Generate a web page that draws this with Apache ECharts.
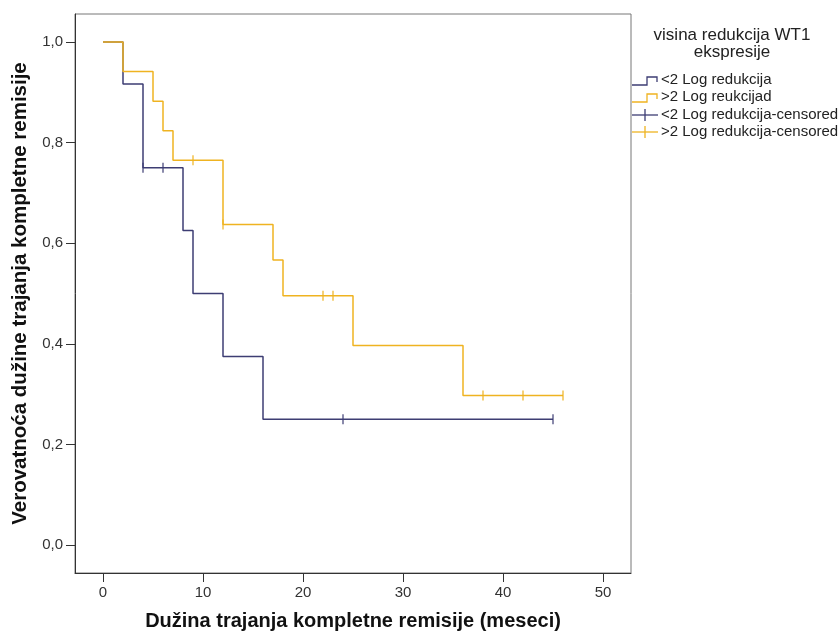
<!DOCTYPE html>
<html><head><meta charset="utf-8">
<script src="https://cdn.jsdelivr.net/npm/echarts@6/dist/echarts.min.js"></script>
<style>html,body{margin:0;padding:0;background:#fff}#c{width:839px;height:636px}</style>
</head><body><div id="c"></div>
<script>
// Data
const lowTimes = [0, 2, 4, 8, 9, 12, 16, 45];
const lowSurv  = [1, 0.9167, 0.75, 0.625, 0.5, 0.375, 0.25, 0.25];
const lowCensTimes = [4, 6, 24, 45];
const lowCensSurv  = [0.75, 0.75, 0.25, 0.25];
const highTimes = [0, 2, 5, 6, 7, 12, 17, 18, 25, 36, 46];
const highSurv  = [1, 0.9412, 0.8824, 0.8235, 0.7647, 0.6373, 0.5664, 0.4956, 0.3965, 0.2974, 0.2974];
const highCensTimes = [9, 12, 22, 23, 38, 42, 46];
const highCensSurv  = [0.7647, 0.6373, 0.4956, 0.4956, 0.2974, 0.2974, 0.2974];
const xTicks = [0, 10, 20, 30, 40, 50];
const yTicks = [0, 0.2, 0.4, 0.6, 0.8, 1.0];
const seriesNames = ['<2 Log redukcija', '>2 Log reukcijad', '<2 Log redukcija-censored', '>2 Log redukcija-censored'];
const legendTitle = ['visina redukcija WT1', 'ekspresije'];
const xName = 'Dužina trajanja kompletne remisije (meseci)';
const yName = 'Verovatnoća dužine trajanja kompletne remisije';

const BLUE = '#3d3d73';
const GOLD = '#efb321';
const FONT = '"Liberation Sans", Arial, sans-serif';

const zip = (a, b) => a.map((v, i) => [v, b[i]]);

const chart = echarts.init(document.getElementById('c'), null, {renderer: 'canvas'});

const legendGraphics = [];
legendGraphics.push({type: 'text', x: 732, y: 35, style: {text: legendTitle[0], font: '17px ' + FONT, fill: '#222', align: 'center', verticalAlign: 'middle'}});
legendGraphics.push({type: 'text', x: 732, y: 52, style: {text: legendTitle[1], font: '17px ' + FONT, fill: '#222', align: 'center', verticalAlign: 'middle'}});
const rowY = [80, 97, 115, 132];
const rowCol = [BLUE, GOLD, BLUE, GOLD];
rowY.forEach((y, i) => {
  if (i < 2) {
    legendGraphics.push({type: 'polyline', shape: {points: [[632, y + 5], [647, y + 5], [647, y - 3], [657, y - 3], [657, y + 2]]}, style: {stroke: rowCol[i], lineWidth: 1.3, fill: null}});
  } else {
    legendGraphics.push({type: 'line', shape: {x1: 632, y1: y, x2: 658, y2: y}, style: {stroke: rowCol[i], lineWidth: 1.3}});
    legendGraphics.push({type: 'line', shape: {x1: 645, y1: y - 6, x2: 645, y2: y + 6}, style: {stroke: rowCol[i], lineWidth: 1.3}});
  }
  legendGraphics.push({type: 'text', x: 661, y: y, style: {text: seriesNames[i], font: '15px ' + FONT, fill: '#222', verticalAlign: 'middle'}});
});

const fmt = v => v.toFixed(1).replace('.', ',');

chart.setOption({
  animation: false,
  backgroundColor: '#fff',
  grid: {left: 75, top: 14, width: 556, height: 560, show: true, borderColor: '#777', borderWidth: 1, backgroundColor: '#fff'},
  xAxis: {
    type: 'value', min: -2.8, max: 52.8,
    name: xName, nameLocation: 'middle', nameGap: 38,
    nameTextStyle: {fontFamily: FONT, fontWeight: 'bold', fontSize: 20, color: '#111'},
    axisLine: {show: true, onZero: false, lineStyle: {color: '#333', width: 1}},
    axisTick: {show: true, length: 9, customValues: xTicks, lineStyle: {color: '#333'}},
    axisLabel: {customValues: xTicks, margin: 12, fontFamily: FONT, fontSize: 15, color: '#333'},
    splitLine: {show: false}
  },
  yAxis: {
    type: 'value', min: -0.0556, max: 1.0556,
    name: yName, nameLocation: 'middle', nameGap: 43, nameRotate: 90,
    nameTextStyle: {fontFamily: FONT, fontWeight: 'bold', fontSize: 20.5, color: '#111'},
    axisLine: {show: true, onZero: false, lineStyle: {color: '#333', width: 1}},
    axisTick: {show: true, length: 9, customValues: yTicks, lineStyle: {color: '#333'}},
    axisLabel: {customValues: yTicks, margin: 12, fontFamily: FONT, fontSize: 15, color: '#333', formatter: fmt},
    splitLine: {show: false}
  },
  series: [
    {name: seriesNames[0], type: 'line', step: 'end', data: zip(lowTimes, lowSurv), showSymbol: false, symbol: 'none', lineStyle: {color: BLUE, width: 1.5}, z: 2},
    {name: seriesNames[1], type: 'line', step: 'end', data: zip(highTimes, highSurv), showSymbol: false, symbol: 'none', lineStyle: {color: GOLD, width: 1.5}, z: 3},
    {name: seriesNames[2], type: 'scatter', data: zip(lowCensTimes, lowCensSurv), symbol: 'rect', symbolSize: [1.5, 10], itemStyle: {color: BLUE}, z: 4},
    {name: seriesNames[3], type: 'scatter', data: zip(highCensTimes, highCensSurv), symbol: 'rect', symbolSize: [1.5, 10], itemStyle: {color: GOLD}, z: 5}
  ],
  graphic: legendGraphics
});
</script></body></html>
